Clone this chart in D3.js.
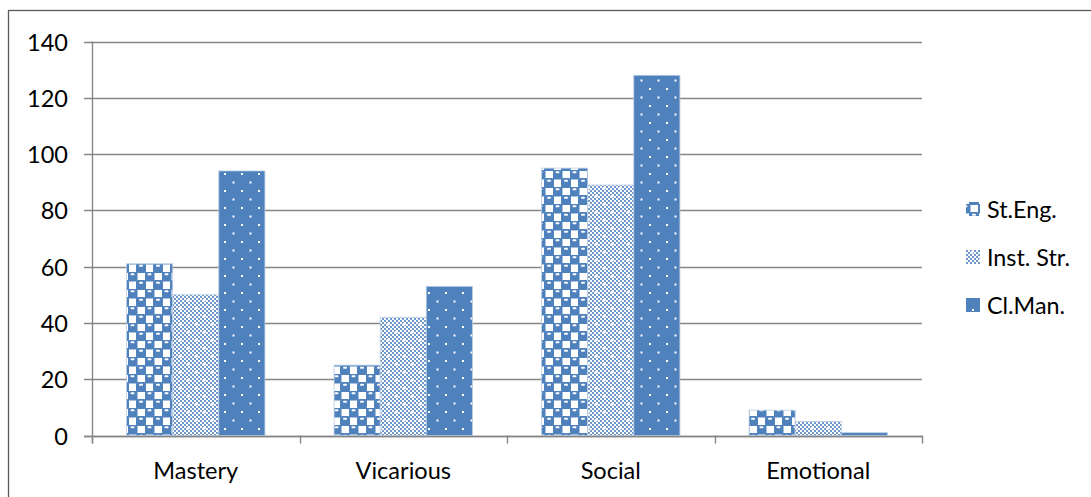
<!DOCTYPE html>
<html>
<head>
<meta charset="utf-8">
<script src="https://cdn.jsdelivr.net/npm/d3@7"></script>
<style>
  html, body { margin: 0; padding: 0; background: #fff; }
  svg { display: block; }
  text { font-family: Lato, "Open Sans", sans-serif; fill: #000; }
</style>
</head>
<body>
<svg id="chart" width="1091" height="497"></svg>
<script>
const categories = ["Mastery", "Vicarious", "Social", "Emotional"];
const seriesNames = ["St.Eng.", "Inst. Str.", "Cl.Man."];
const stEng   = [61, 25, 95, 9];
const instStr = [50, 42, 89, 5];
const clMan   = [94, 53, 128, 1];
const yTicks  = [0, 20, 40, 60, 80, 100, 120, 140];

(function () {
const seriesValues = [stEng, instStr, clMan];
const patternIds = ["pStEng", "pInst", "pClMan"];
const blue = "#4f81bd";

const svg = d3.select("#chart");
const defs = svg.append("defs");

// St.Eng. pattern: checkerboard of blue squares with white dashes
{
  const p = defs.append("pattern").attr("id", "pStEng")
    .attr("patternUnits", "userSpaceOnUse").attr("width", 17).attr("height", 17)
    .attr("x", 128).attr("y", 0);
  p.append("rect").attr("width", 17).attr("height", 17).attr("fill", "#fff");
  [[0,0],[8.5,8.5],[-8.5,8.5],[8.5,-8.5]].forEach(([x,y]) => {
    p.append("rect").attr("x", x - 0.5).attr("y", y - 0.5).attr("width", 10).attr("height", 10)
      .attr("rx", 2).attr("fill", blue);
    p.append("rect").attr("x", x + 2.5).attr("y", y + 1.2).attr("width", 4).attr("height", 2)
      .attr("rx", 1).attr("fill", "#fff");
  });
}
// Inst. Str. pattern: fine checker with white specks
{
  const p = defs.append("pattern").attr("id", "pInst")
    .attr("patternUnits", "userSpaceOnUse").attr("width", 16).attr("height", 16);
  p.append("rect").attr("width", 16).attr("height", 16).attr("fill", "#fff");
  for (let i = 0; i < 8; i++) for (let j = 0; j < 8; j++) {
    if ((i + j) % 2 === 0) {
      p.append("rect").attr("x", i*2).attr("y", j*2).attr("width", 2).attr("height", 2)
        .attr("fill", "#6f97cb");
    }
  }
  [[3,3],[11,11]].forEach(([x,y]) => {
    p.append("rect").attr("x", x).attr("y", y).attr("width", 2.5).attr("height", 2.5).attr("fill", "#fff");
  });
}
// Cl.Man. pattern: solid blue with staggered white dots
{
  const p = defs.append("pattern").attr("id", "pClMan")
    .attr("patternUnits", "userSpaceOnUse").attr("width", 17).attr("height", 17)
    .attr("x", 3).attr("y", 3);
  p.append("rect").attr("width", 17).attr("height", 17).attr("fill", blue);
  [[0,0],[8.5,8.5]].forEach(([x,y]) => {
    p.append("rect").attr("x", x).attr("y", y).attr("width", 2).attr("height", 2).attr("fill", "#fff");
  });
}

// outer chart border (extends beyond right/bottom of the view)
svg.append("rect").attr("x", 8.5).attr("y", 10.5).attr("width", 1200).attr("height", 600)
  .attr("fill", "none").attr("stroke", "#595959").attr("stroke-width", 1.3);

const pL = 92, pR = 922, pT = 41.5, pB = 435.5;

const x = d3.scaleBand().domain(categories).range([pL, pR]).padding(0);
const xs = d3.scaleBand().domain(seriesNames).range([0, x.bandwidth()])
  .paddingInner(0).paddingOuter(0.75);
const y = d3.scaleLinear().domain([0, 140]).range([pB, pT]);

function fitSize(str, targetWidth) {
  const t = svg.append("text").attr("font-size", 100).text(str);
  const w = t.node().getComputedTextLength();
  t.remove();
  return 100 * targetWidth / w;
}
const axisFont = (fitSize("Mastery", 88) + fitSize("Emotional", 108) + fitSize("140", 38)) / 3;
const legendFont = (fitSize("Inst. Str.", 88) + fitSize("St.Eng.", 63) + fitSize("Cl.Man.", 81)) / 3;

// gridlines
svg.append("g").selectAll("line").data(yTicks).join("line")
  .attr("x1", pL - 8).attr("x2", pR)
  .attr("y1", d => Math.round(y(d)) + 0.5).attr("y2", d => Math.round(y(d)) + 0.5)
  .attr("stroke", "#868686").attr("stroke-width", 1.4);

// bars
seriesNames.forEach((s, si) => {
  svg.append("g").selectAll("rect").data(categories).join("rect")
    .attr("x", c => x(c) + xs(s))
    .attr("y", (c, i) => y(seriesValues[si][i]))
    .attr("width", xs.bandwidth())
    .attr("height", (c, i) => pB - y(seriesValues[si][i]))
    .attr("fill", `url(#${patternIds[si]})`)
    .attr("stroke", "#b9cde5").attr("stroke-width", 0.8);
});

// y axis
svg.append("line").attr("x1", pL + 0.5).attr("x2", pL + 0.5)
  .attr("y1", pT).attr("y2", pB + 8)
  .attr("stroke", "#868686").attr("stroke-width", 1.4);
// x axis
svg.append("line").attr("x1", pL - 8).attr("x2", pR + 0.5)
  .attr("y1", Math.round(pB) + 0.5).attr("y2", Math.round(pB) + 0.5)
  .attr("stroke", "#868686").attr("stroke-width", 1.4);
const boundaries = categories.map(c => x(c)).concat([pR]);
svg.append("g").selectAll("line").data(boundaries).join("line")
  .attr("x1", d => Math.round(d) + 0.5).attr("x2", d => Math.round(d) + 0.5)
  .attr("y1", pB).attr("y2", pB + 8)
  .attr("stroke", "#868686").attr("stroke-width", 1.4);

// y tick labels
svg.append("g").selectAll("text").data(yTicks).join("text")
  .attr("x", 68).attr("y", d => y(d))
  .attr("text-anchor", "end").attr("dominant-baseline", "central")
  .attr("font-size", axisFont)
  .text(d => d);

// x labels
svg.append("g").selectAll("text").data(categories).join("text")
  .attr("x", c => x(c) + x.bandwidth() / 2).attr("y", 479)
  .attr("text-anchor", "middle")
  .attr("font-size", axisFont)
  .text(c => c);

// legend
const legendRows = [209, 257, 305];
const lg = svg.append("g");
seriesNames.forEach((s, i) => {
  lg.append("rect").attr("x", 966).attr("y", legendRows[i] - 7).attr("width", 14).attr("height", 14)
    .attr("fill", `url(#${patternIds[i]})`);
  lg.append("text").attr("x", 987).attr("y", legendRows[i])
    .attr("dominant-baseline", "central").attr("font-size", legendFont).text(s);
});
})();
</script>
</body>
</html>
